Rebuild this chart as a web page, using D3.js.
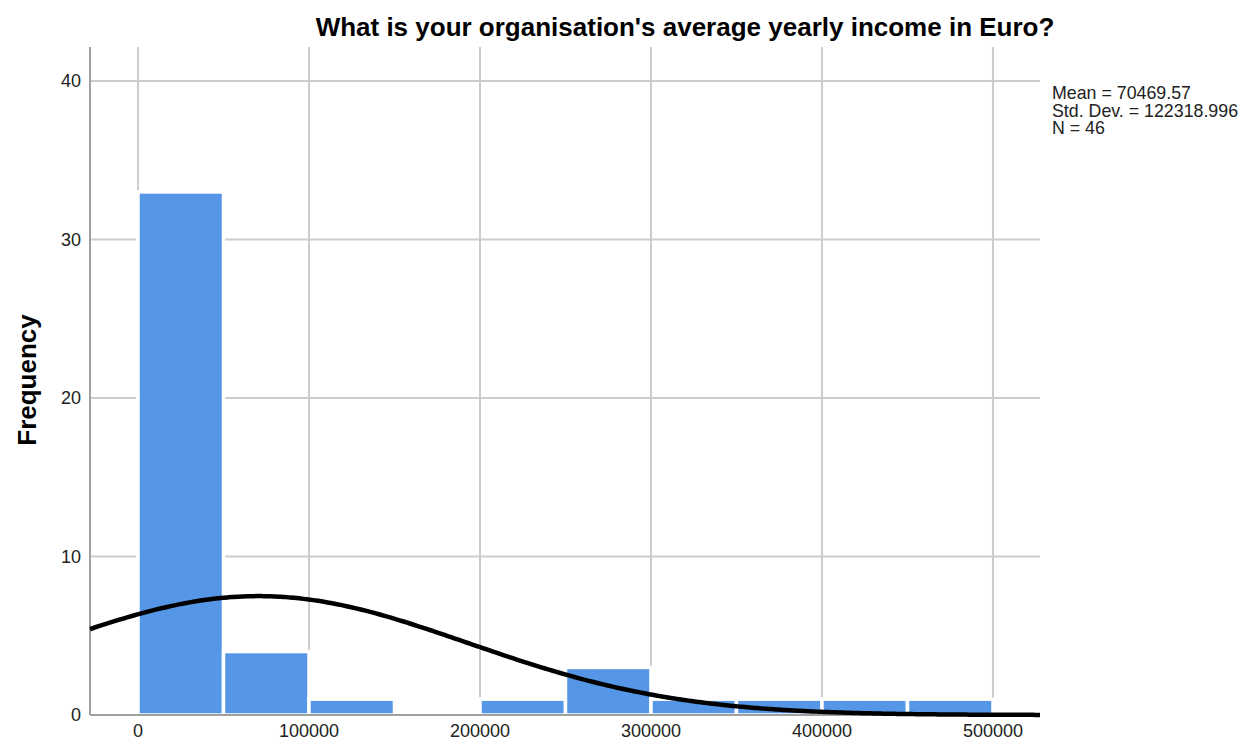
<!DOCTYPE html>
<html lang="en">
<head>
<meta charset="utf-8">
<title>Histogram income</title>
<script src="https://d3js.org/d3.v7.min.js"></script>
<style>
    body { margin: 0; background: white; }
    text { font-family: "Liberation Sans", Arial, sans-serif; }
</style>
</head>
<body>
<svg id="chart" width="1256" height="742"></svg>
<script>
    // histogram bins (Euro) and counts
    var binStarts = [0, 50000, 100000, 150000, 200000, 250000, 300000, 350000, 400000, 450000];
    var binWidth = 50000;
    var counts = [33, 4, 1, 0, 1, 3, 1, 1, 1, 1];
    var xTicks = [0, 100000, 200000, 300000, 400000, 500000];
    var yTicks = [0, 10, 20, 30, 40];
    var stats = ["Mean = 70469.57", "Std. Dev. = 122318.996", "N = 46"];
    var mean = 70469.57, sd = 122318.996, n = 46;

    var svg = d3.select("#chart");
    var plotL = 90, plotR = 1040, plotT = 47, plotB = 715;

    var x = d3.scaleLinear().domain([-28070, 527500]).range([plotL, plotR]);
    var y = d3.scaleLinear().domain([0, 40]).range([plotB, 81]);

    // grid
    svg.append("g").selectAll("line")
        .data(xTicks).enter().append("line")
        .attr("x1", d => x(d)).attr("x2", d => x(d))
        .attr("y1", plotT).attr("y2", plotB)
        .style("stroke", "#cccccc").style("stroke-width", 2);

    svg.append("g").selectAll("line")
        .data(yTicks.filter(d => d > 0)).enter().append("line")
        .attr("x1", plotL).attr("x2", plotR)
        .attr("y1", d => y(d)).attr("y2", d => y(d))
        .style("stroke", "#cccccc").style("stroke-width", 2);

    // bars
    svg.append("g").selectAll("rect")
        .data(binStarts.map((b, i) => ({ b: b, c: counts[i] })).filter(d => d.c > 0))
        .enter().append("rect")
        .attr("x", d => x(d.b))
        .attr("y", d => y(d.c))
        .attr("width", d => x(d.b + binWidth) - x(d.b))
        .attr("height", d => y(0) - y(d.c))
        .style("fill", "#5596e6")
        .style("stroke", "white")
        .style("stroke-width", 3.5);

    // axes lines
    svg.append("line")
        .attr("x1", plotL).attr("x2", plotL).attr("y1", plotT).attr("y2", plotB)
        .style("stroke", "#a0a0a0").style("stroke-width", 2);
    svg.append("line")
        .attr("x1", plotL).attr("x2", plotR).attr("y1", plotB).attr("y2", plotB)
        .style("stroke", "#a0a0a0").style("stroke-width", 2);

    // normal curve from the reported stats
    var curveX = d3.range(0, 201).map(i => x.invert(plotL + (plotR - plotL) * i / 200));
    var line = d3.line()
        .x(d => x(d))
        .y(d => y(n * binWidth / (sd * Math.sqrt(2 * Math.PI)) * Math.exp(-0.5 * Math.pow((d - mean) / sd, 2))))
        .curve(d3.curveBasis);
    svg.append("path")
        .datum(curveX)
        .attr("d", line)
        .style("fill", "none")
        .style("stroke", "black")
        .style("stroke-width", 4.5);

    // tick labels
    svg.append("g").selectAll("text")
        .data(yTicks).enter().append("text")
        .attr("x", 81).attr("y", d => y(d) + 6)
        .attr("text-anchor", "end")
        .style("font-size", "18px").style("fill", "#222")
        .text(d => d);

    svg.append("g").selectAll("text")
        .data(xTicks).enter().append("text")
        .attr("x", d => x(d)).attr("y", 737)
        .attr("text-anchor", "middle")
        .style("font-size", "18px").style("fill", "#222")
        .text(d => d);

    // titles
    svg.append("text")
        .attr("x", 685).attr("y", 36)
        .attr("text-anchor", "middle")
        .style("font-size", "26px").style("font-weight", "bold")
        .text("What is your organisation's average yearly income in Euro?");

    svg.append("text")
        .attr("transform", "translate(36,380) rotate(-90)")
        .attr("text-anchor", "middle")
        .style("font-size", "26px").style("font-weight", "bold")
        .text("Frequency");

    svg.append("g").selectAll("text")
        .data(stats).enter().append("text")
        .attr("x", 1052).attr("y", (d, i) => 99 + i * 17.5)
        .style("font-size", "17.8px").style("fill", "#222")
        .text(d => d);
</script>
</body>
</html>
